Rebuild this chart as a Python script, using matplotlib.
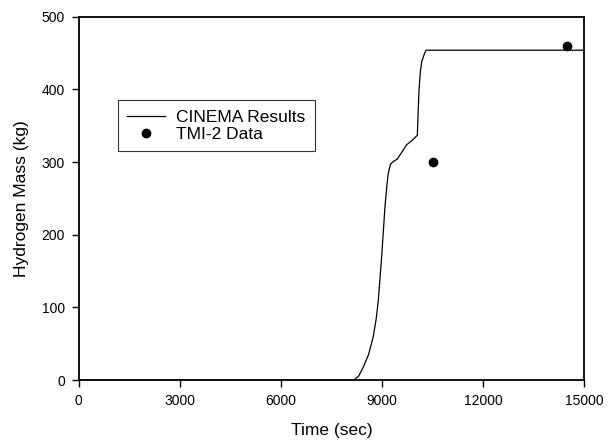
import numpy as np
import matplotlib
matplotlib.use("Agg")
import matplotlib.pyplot as plt

plt.rcParams['font.family'] = ['Liberation Sans', 'DejaVu Sans']

# CINEMA calculation
cinema_time = [0, 8150, 8300, 8445, 8600, 8742, 8830, 8891, 8990, 9089, 9150, 9188, 9250,
               9337, 9450, 9535, 9650, 9733, 9900, 10049, 10070, 10099, 10140, 10178, 10250, 10307, 15000]
cinema_mass = [0, 0, 5, 18, 35, 60, 85, 110, 170, 239, 270, 285, 297,
               301, 304, 310, 318, 324, 330, 337, 365, 400, 425, 438, 448, 454, 454]

# TMI-2 measured points
tmi_time = [10500, 14500]
tmi_mass = [300, 460]

xticks = [0, 3000, 6000, 9000, 12000, 15000]
yticks = [0, 100, 200, 300, 400, 500]

fig = plt.figure(figsize=(6.11, 4.42), dpi=100)
ax = fig.add_axes([0.129, 0.140, 0.827, 0.822])

ax.plot(cinema_time, cinema_mass, color="black", lw=0.9, label="CINEMA Results")
ax.plot(tmi_time, tmi_mass, "o", color="black", ms=6, ls="none", label="TMI-2 Data")

ax.set_xlim(0, 15000)
ax.set_ylim(0, 500)
ax.set_xticks(xticks)
ax.set_yticks(yticks)
ax.tick_params(direction="out", length=5, width=1, labelsize=10, pad=5)
for s in ax.spines.values():
    s.set_linewidth(1.3)

ax.set_xlabel("Time (sec)", fontsize=12.5, labelpad=11)
ax.set_ylabel("Hydrogen Mass (kg)", fontsize=12.5, labelpad=9)

leg = ax.legend(loc="upper left", bbox_to_anchor=(0.077, 0.771), fontsize=12.5,
                frameon=True, fancybox=False, handlelength=2.2, borderpad=0.55,
                labelspacing=0.1, handletextpad=0.6, borderaxespad=0)
leg.get_frame().set_edgecolor("black")
leg.get_frame().set_linewidth(0.8)

fig.savefig("out.png", dpi=100)
